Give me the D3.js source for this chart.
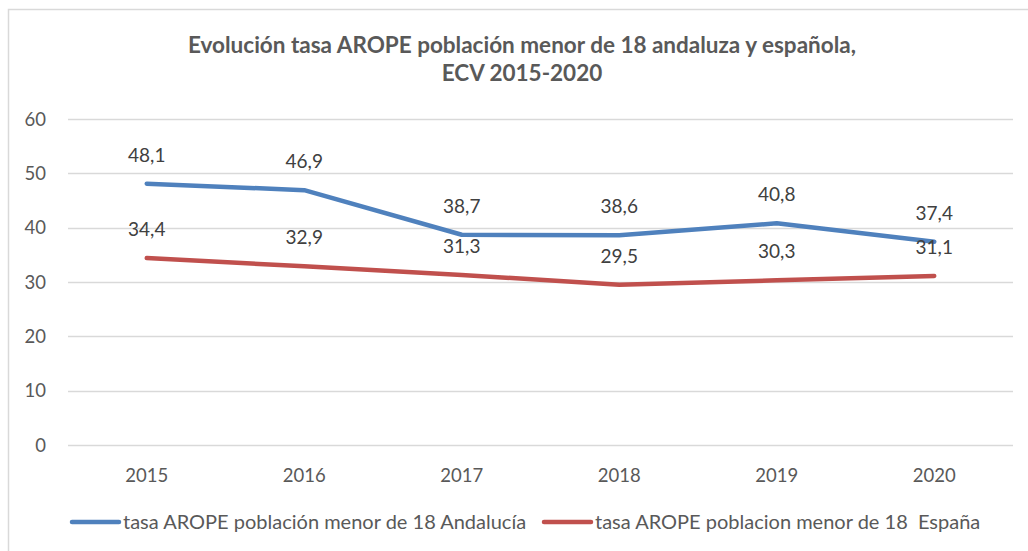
<!DOCTYPE html>
<html>
<head>
<meta charset="utf-8">
<script src="https://cdn.jsdelivr.net/npm/d3@7"></script>
<style>
  body { margin: 0; background: #fff; }
  svg { font-family: Lato, "Open Sans", sans-serif; }
</style>
</head>
<body>
<svg width="1028" height="551"></svg>
<script>
const years = ['2015', '2016', '2017', '2018', '2019', '2020'];
const andalucia = [48.1, 46.9, 38.7, 38.6, 40.8, 37.4];
const espana = [34.4, 32.9, 31.3, 29.5, 30.3, 31.1];
const yTicks = [0, 10, 20, 30, 40, 50, 60];
const seriesNames = ['tasa AROPE población menor de 18 Andalucía', 'tasa AROPE poblacion menor de 18  España'];
const seriesColors = ['#4f81bd', '#c0504d'];

const svg = d3.select('svg');

// chart area border
svg.append('path')
  .attr('d', 'M8.5,560 V9.5 H1040')
  .attr('fill', 'none')
  .attr('stroke', '#d9d9d9')
  .attr('stroke-width', 1.5);

const x = d3.scaleBand()
  .domain(years)
  .range([68, 1013]);
const y = d3.scaleLinear()
  .domain([0, 60])
  .range([445, 119]);

// title
const title = svg.append('text')
  .attr('text-anchor', 'middle')
  .attr('fill', '#595959')
  .style('font-size', '22.5px')
  .style('font-weight', 'bold');
title.append('tspan').attr('x', 522).attr('y', 53).text('Evolución tasa AROPE población menor de 18 andaluza y española,');
title.append('tspan').attr('x', 522).attr('y', 81).text('ECV 2015-2020');

// gridlines
svg.append('g')
  .selectAll('line')
  .data(yTicks)
  .join('line')
  .attr('x1', 68)
  .attr('x2', 1013)
  .attr('y1', d => Math.round(y(d)) + 0.5)
  .attr('y2', d => Math.round(y(d)) + 0.5)
  .attr('stroke', '#d9d9d9')
  .attr('stroke-width', 1.5);

// y axis labels
svg.append('g')
  .selectAll('text')
  .data(yTicks)
  .join('text')
  .attr('x', 46)
  .attr('y', d => y(d) + 6.5)
  .attr('text-anchor', 'end')
  .attr('fill', '#595959')
  .style('font-size', '18.5px')
  .text(d => d);

// x axis labels
svg.append('g')
  .selectAll('text')
  .data(years)
  .join('text')
  .attr('x', d => x(d) + x.bandwidth() / 2)
  .attr('y', 482)
  .attr('text-anchor', 'middle')
  .attr('fill', '#595959')
  .style('font-size', '18.5px')
  .text(d => d);

const line = d3.line()
  .x((d, i) => x(years[i]) + x.bandwidth() / 2)
  .y(d => y(d));

[andalucia, espana].forEach((values, k) => {
  svg.append('path')
    .datum(values)
    .attr('d', line)
    .attr('fill', 'none')
    .attr('stroke', seriesColors[k])
    .attr('stroke-width', 4.5)
    .attr('stroke-linecap', 'round')
    .attr('stroke-linejoin', 'round');
});

// data labels
[andalucia, espana].forEach((values) => {
  svg.append('g')
    .selectAll('text')
    .data(values)
    .join('text')
    .attr('x', (d, i) => x(years[i]) + x.bandwidth() / 2)
    .attr('y', d => y(d) - 22)
    .attr('text-anchor', 'middle')
    .attr('fill', '#404040')
    .style('font-size', '19px')
    .text(d => d.toFixed(1).replace('.', ','));
});

// legend
const legendX = [70, 542];
seriesNames.forEach((name, k) => {
  const g = svg.append('g').attr('transform', `translate(${legendX[k]},522)`);
  g.append('line')
    .attr('x1', 2)
    .attr('x2', 49)
    .attr('stroke', seriesColors[k])
    .attr('stroke-width', 4.5)
    .attr('stroke-linecap', 'round');
  g.append('text')
    .attr('x', 53)
    .attr('y', 7)
    .attr('fill', '#595959')
    .style('font-size', '20px')
    .style('white-space', 'pre')
    .text(name);
});
</script>
</body>
</html>
